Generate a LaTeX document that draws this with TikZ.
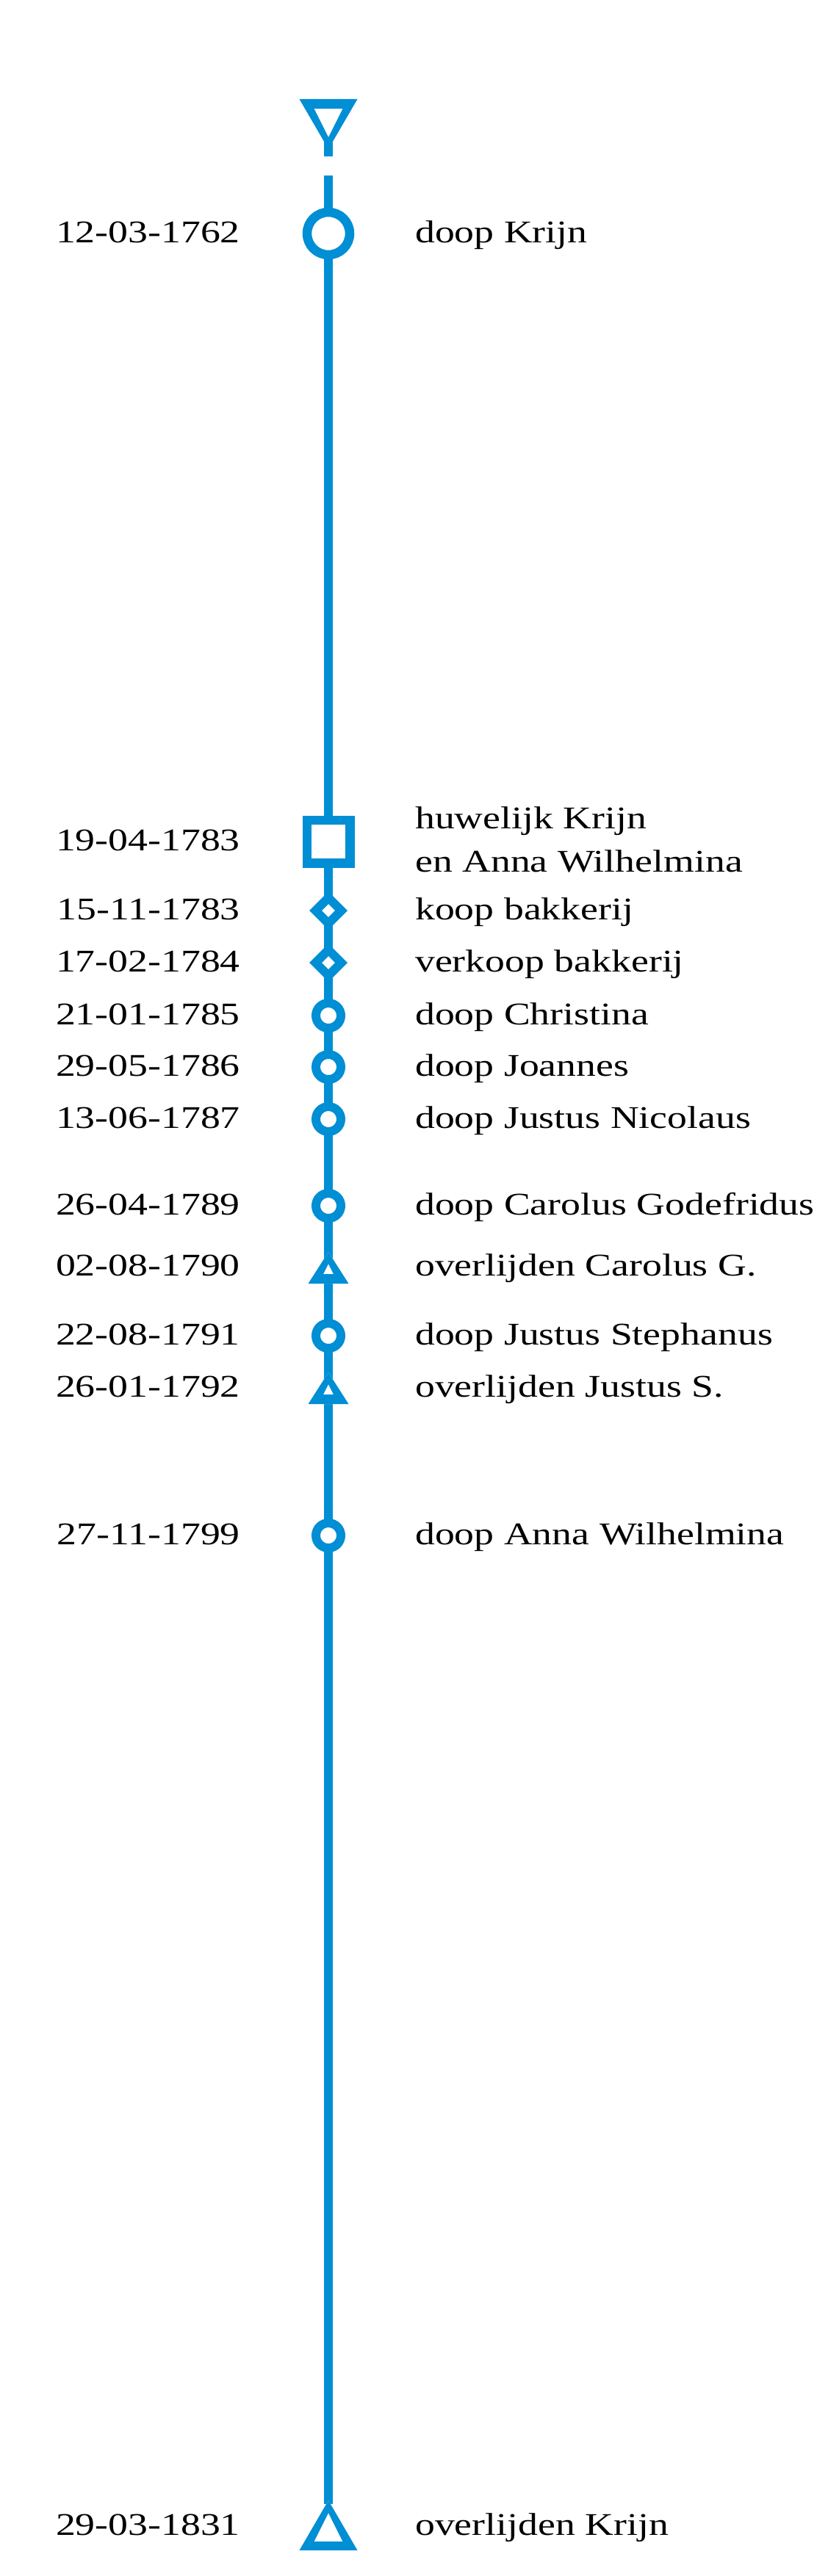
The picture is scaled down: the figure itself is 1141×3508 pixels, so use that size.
\documentclass[tikz,border=0pt]{standalone}
\usepackage{fontspec}
\setmainfont[FakeStretch=1.25]{Liberation Serif}
\definecolor{tlblue}{RGB}{0,142,212}
\begin{document}
\begin{tikzpicture}[x=1pt,y=-1pt,
  tl/.style={draw=tlblue,line width=12pt},
  mk/.style={draw=tlblue,line width=12pt,fill=white},
  datelbl/.style={anchor=base east,inner sep=0pt,font=\fontsize{43}{50}\selectfont},
  desclbl/.style={anchor=base west,inner sep=0pt,font=\fontsize{43}{50}\selectfont}]
\path[use as bounding box] (0,0) rectangle (1141,3508);
% positions
\coordinate (ts) at (447,135);
\coordinate (lstart) at (447,239);
\coordinate (lend) at (447,3410);
\coordinate (m1) at (447,318);
\coordinate (m2) at (447,1146);
\coordinate (m3) at (447,1240);
\coordinate (m4) at (447,1311);
\coordinate (m5) at (447,1383);
\coordinate (m6) at (447,1453);
\coordinate (m7) at (447,1524);
\coordinate (m8) at (447,1642);
\coordinate (m9) at (447,1748);
\coordinate (m10) at (447,1819);
\coordinate (m11) at (447,1912);
\coordinate (m12) at (447,2091);
\coordinate (m13) at (447,3473);
% main line
\draw[tl] (lstart) -- (lend);
% top triangle (pointing down) with stub
\fill[white,shift={(ts)}] (-39.5,0) -- (39.5,0) -- (0,68) -- cycle;
\fill[tlblue,even odd rule,shift={(ts)}] (-39.5,0) -- (39.5,0) -- (0,68) -- cycle
  (-19.5,13) -- (19.5,13) -- (0,52) -- cycle;
\draw[tl,shift={(ts)}] (0,58) -- (0,78);
% markers
\draw[mk,line width=12.5pt] (m1) circle[radius=29];
\draw[mk,line width=12.5pt,shift={(m2)}] (-29.25,-29.25) rectangle (29.25,29.25);
\draw[mk,shift={(m3)}] (0,-17.5) -- (17.5,0) -- (0,17.5) -- (-17.5,0) -- cycle;
\draw[mk,shift={(m4)}] (0,-17.5) -- (17.5,0) -- (0,17.5) -- (-17.5,0) -- cycle;
\draw[mk] (m5) circle[radius=17];
\draw[mk] (m6) circle[radius=17];
\draw[mk] (m7) circle[radius=17];
\draw[mk] (m8) circle[radius=17];
\fill[white,shift={(m9)}] (-27.5,0) -- (27.5,0) -- (0,-43) -- cycle;
\fill[tlblue,even odd rule,shift={(m9)}] (-27.5,0) -- (27.5,0) -- (0,-43) -- cycle
  (-7,-13) -- (7,-13) -- (0,-27) -- cycle;
\draw[mk] (m10) circle[radius=17];
\fill[white,shift={(m11)}] (-27.5,0) -- (27.5,0) -- (0,-43) -- cycle;
\fill[tlblue,even odd rule,shift={(m11)}] (-27.5,0) -- (27.5,0) -- (0,-43) -- cycle
  (-7,-13) -- (7,-13) -- (0,-27) -- cycle;
\draw[mk] (m12) circle[radius=17];
\fill[white,shift={(m13)}] (-39.5,0) -- (39.5,0) -- (0,-68) -- cycle;
\fill[tlblue,even odd rule,shift={(m13)}] (-39.5,0) -- (39.5,0) -- (0,-68) -- cycle
  (-19.5,-12) -- (19.5,-12) -- (0,-51) -- cycle;
% labels
\node[datelbl] (d1) at (327,330) {12-03-1762};
\node[desclbl] (e1) at (565,330) {doop Krijn};
\node[datelbl] (d2) at (327,1158) {19-04-1783};
\node[desclbl] (e2a) at (565,1128) {huwelijk Krijn};
\node[desclbl] (e2b) at (565,1187) {en Anna Wilhelmina};
\node[datelbl] (d3) at (327,1252) {15-11-1783};
\node[desclbl] (e3) at (565,1252) {koop bakkerij};
\node[datelbl] (d4) at (327,1323) {17-02-1784};
\node[desclbl] (e4) at (565,1323) {verkoop bakkerij};
\node[datelbl] (d5) at (327,1395) {21-01-1785};
\node[desclbl] (e5) at (565,1395) {doop Christina};
\node[datelbl] (d6) at (327,1465) {29-05-1786};
\node[desclbl] (e6) at (565,1465) {doop Joannes};
\node[datelbl] (d7) at (327,1536) {13-06-1787};
\node[desclbl] (e7) at (565,1536) {doop Justus Nicolaus};
\node[datelbl] (d8) at (327,1654) {26-04-1789};
\node[desclbl] (e8) at (565,1654) {doop Carolus Godefridus};
\node[datelbl] (d9) at (327,1737) {02-08-1790};
\node[desclbl] (e9) at (565,1737) {overlijden Carolus G.};
\node[datelbl] (d10) at (327,1831) {22-08-1791};
\node[desclbl] (e10) at (565,1831) {doop Justus Stephanus};
\node[datelbl] (d11) at (327,1902) {26-01-1792};
\node[desclbl] (e11) at (565,1902) {overlijden Justus S.};
\node[datelbl] (d12) at (327,2103) {27-11-1799};
\node[desclbl] (e12) at (565,2103) {doop Anna Wilhelmina};
\node[datelbl] (d13) at (327,3452) {29-03-1831};
\node[desclbl] (e13) at (565,3452) {overlijden Krijn};
\end{tikzpicture}
\end{document}
